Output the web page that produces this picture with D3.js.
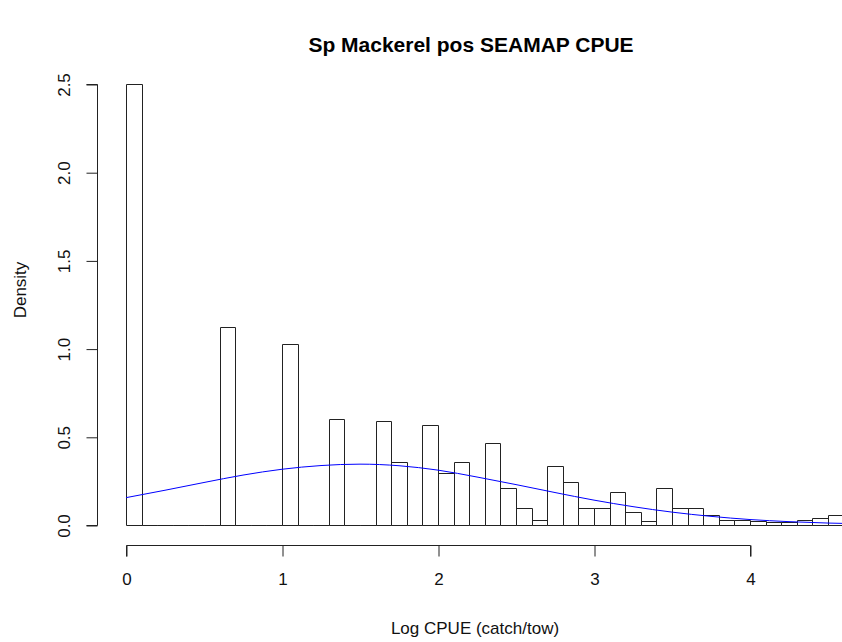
<!DOCTYPE html>
<html>
<head>
<meta charset="utf-8">
<script src="https://cdn.jsdelivr.net/npm/d3@7"></script>
<style>
  html, body { margin: 0; padding: 0; background: #fff; }
  svg { display: block; font-family: "Liberation Sans", Arial, sans-serif; }
</style>
</head>
<body>
<svg id="chart" width="842" height="642"></svg>
<script>
// ---- data ----
const title = "Sp Mackerel pos SEAMAP CPUE";
const xLabel = "Log CPUE (catch/tow)";
const yLabel = "Density";
const binWidth = 0.1;
const binStarts = d3.range(46).map(i => +(i * 0.1).toFixed(1));
const densities = [
  2.5, 0, 0, 0, 0, 0, 1.124, 0, 0, 0,
  1.024, 0, 0, 0.603, 0, 0, 0.591, 0.359, 0, 0.569,
  0.293, 0.359, 0, 0.463, 0.210, 0.096, 0.028, 0.333, 0.246, 0.096,
  0.096, 0.189, 0.075, 0.023, 0.208, 0.095, 0.095, 0.055, 0.030, 0.026,
  0.020, 0.016, 0.018, 0.028, 0.040, 0.057
];
const curveX = [0, 0.25, 0.5, 0.75, 1.0, 1.25, 1.5, 1.75, 2.0, 2.25, 2.5, 2.75, 3.0, 3.25, 3.5, 3.75, 4.0, 4.25, 4.5, 4.75];
const curveY = [0.155, 0.197, 0.241, 0.283, 0.316, 0.337, 0.345, 0.336, 0.311, 0.272, 0.229, 0.184, 0.141, 0.104, 0.073, 0.049, 0.031, 0.019, 0.011, 0.006];
const xTicks = [0, 1, 2, 3, 4];
const yTicks = [0.0, 0.5, 1.0, 1.5, 2.0, 2.5];

// ---- layout ----
const svg = d3.select("#chart");
const plotLeft = 97, plotRight = 845, plotTop = 66, plotBottom = 543;
const x = d3.scaleLinear().domain([0, 4]).range([126, 750]);
const y = d3.scaleLinear().domain([0, 2.5]).range([525, 84]);

svg.append("defs").append("clipPath").attr("id", "clip")
  .append("rect").attr("x", plotLeft).attr("y", plotTop)
  .attr("width", plotRight - plotLeft).attr("height", plotBottom - plotTop);

const plot = svg.append("g").attr("clip-path", "url(#clip)");

// bars (drawn as closed paths so empty bins still show their base line)
plot.selectAll("path.bar").data(binStarts.map((b, i) => ({ b, d: densities[i] })))
  .enter().append("path").attr("class", "bar")
  .attr("d", d => {
    const x0 = Math.round(x(d.b)) + 0.5, x1 = Math.round(x(d.b + binWidth)) + 0.5;
    const y0 = Math.round(y(0)) + 0.5, y1 = Math.round(y(d.d)) + 0.5;
    return `M${x0},${y0}V${y1}H${x1}V${y0}Z`;
  })
  .attr("fill", "none")
  .attr("stroke", "#222")
  .attr("stroke-width", 1);

// normal curve
const line = d3.line().x(d => x(d[0])).y(d => y(d[1])).curve(d3.curveMonotoneX);
plot.append("path")
  .datum(curveX.map((v, i) => [v, curveY[i]]))
  .attr("d", line)
  .attr("fill", "none")
  .attr("stroke", "#0000ff")
  .attr("stroke-width", 1);

// x axis
const xAxisY = 545;
const xAxis = d3.axisBottom(x).tickValues(xTicks).tickFormat(d3.format("d")).tickSize(11).tickPadding(16);
const gx = svg.append("g").attr("transform", `translate(0.5,${xAxisY + 0.5})`).call(xAxis);
gx.select(".domain").attr("d", `M${x(0)},11V0H${x(4)}V11`).attr("stroke", "#222");
gx.selectAll(".tick line").attr("stroke", "#222");
gx.selectAll(".tick text").attr("font-size", 17).attr("fill", "#111")
  .attr("font-family", "Liberation Sans, Arial, sans-serif");

// y axis
const yAxisX = 97;
const yAxis = d3.axisLeft(y).tickValues(yTicks).tickFormat(d3.format(".1f")).tickSize(11).tickPadding(0);
const gy = svg.append("g").attr("transform", `translate(${yAxisX + 0.5},0.5)`).call(yAxis);
gy.select(".domain").attr("d", `M-11,${y(0)}H0V${y(2.5)}H-11`).attr("stroke", "#222");
gy.selectAll(".tick line").attr("stroke", "#222");
gy.selectAll(".tick text")
  .attr("font-size", 17).attr("fill", "#111")
  .attr("font-family", "Liberation Sans, Arial, sans-serif")
  .attr("x", null).attr("dy", null)
  .attr("text-anchor", "middle")
  .attr("transform", "translate(-33,0) rotate(-90)")
  .attr("dominant-baseline", "central");

// labels
svg.append("text").attr("x", 471).attr("y", 52).attr("text-anchor", "middle")
  .attr("font-size", 21).attr("font-weight", "bold").attr("fill", "#000").text(title);
svg.append("text").attr("x", 475).attr("y", 634).attr("text-anchor", "middle")
  .attr("font-size", 17).attr("fill", "#111").text(xLabel);
svg.append("text").attr("transform", `translate(26,290) rotate(-90)`)
  .attr("text-anchor", "middle").attr("font-size", 17).attr("fill", "#111").text(yLabel);
</script>
</body>
</html>
